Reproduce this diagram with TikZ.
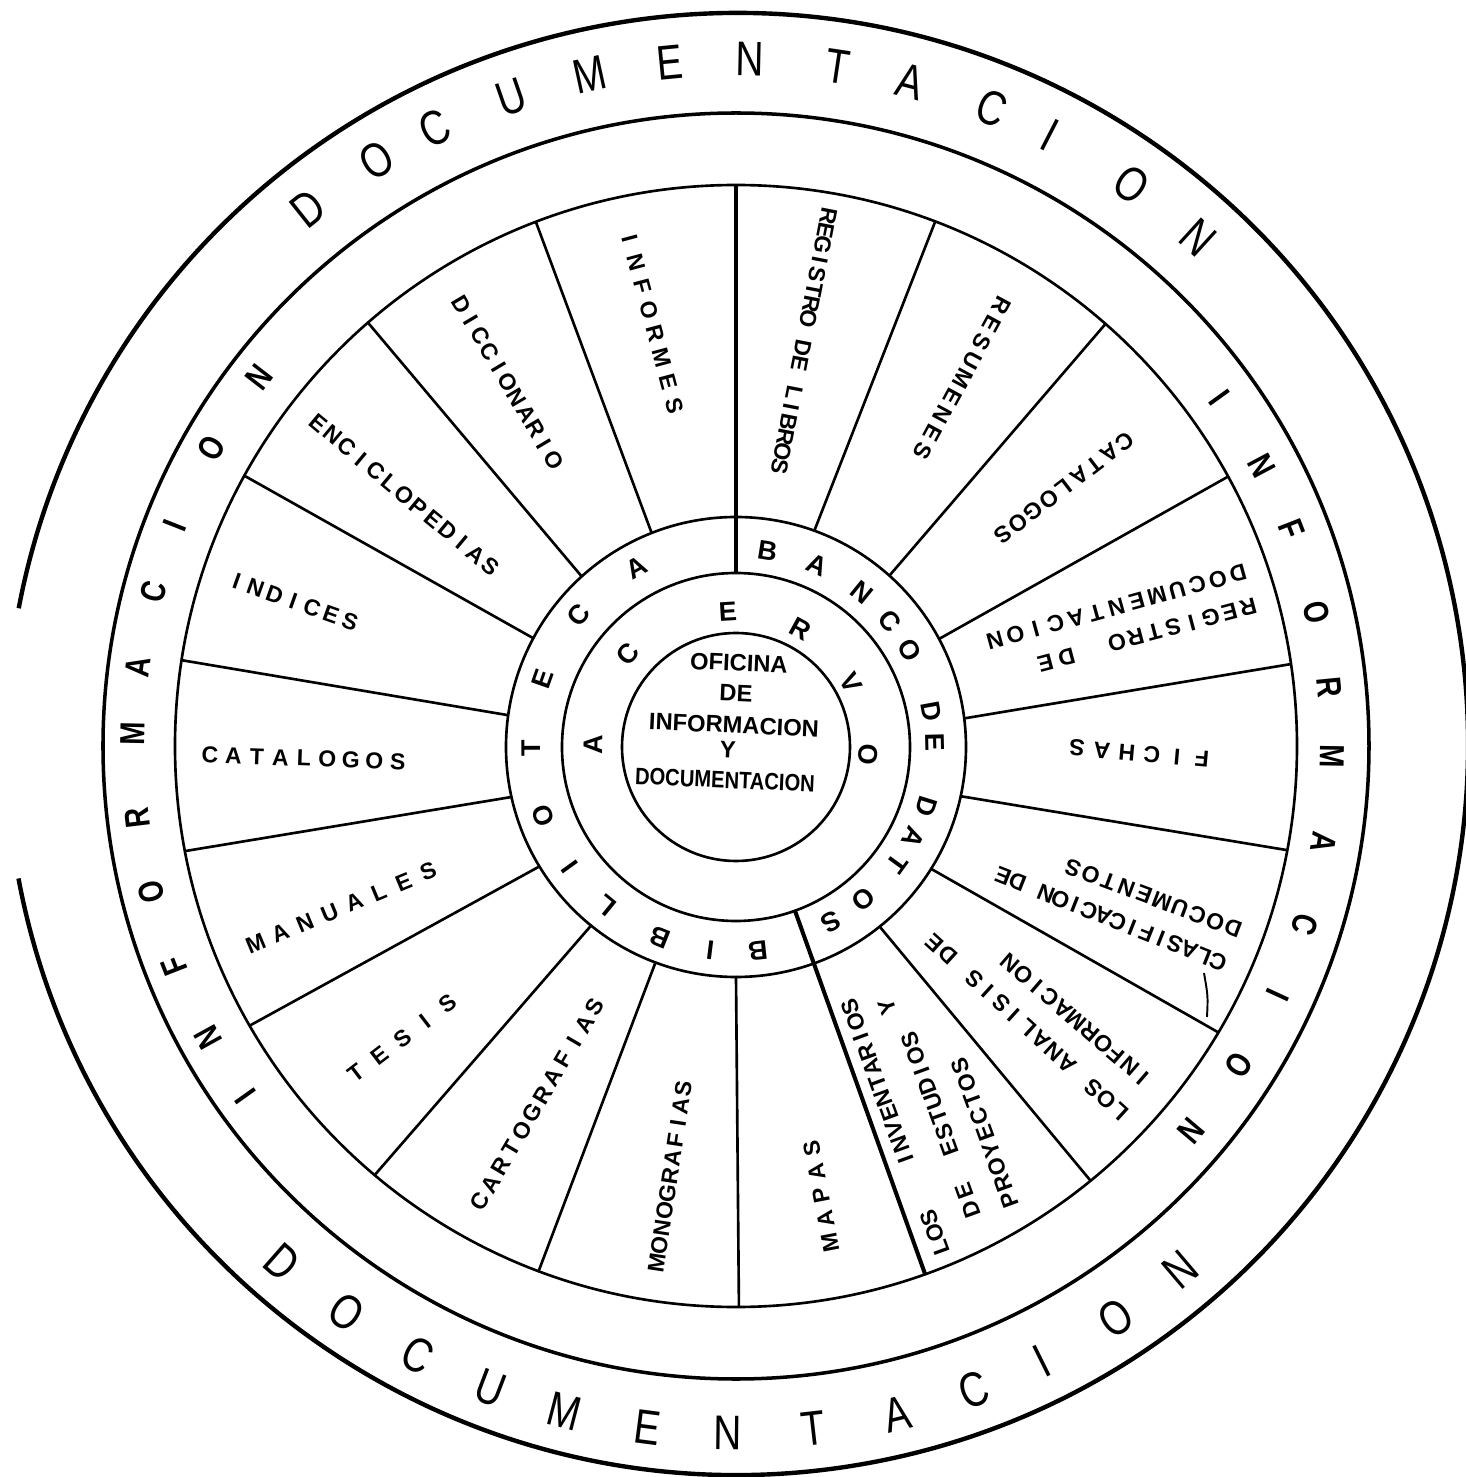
\documentclass[tikz,border=0pt]{standalone}
\usepackage{fontspec}
\setmainfont{Liberation Sans}
\newfontfamily\narrowfont{Liberation Sans}[FakeStretch=0.8]
\newdimen\pxunit \pxunit=0.02cm
\newdimen\lspw
\makeatletter
\newcommand\lsp[2]{\lspw=#1\pxunit\relax\lsp@iter#2\relax}
\def\lsp@iter#1{%
  \ifx#1\relax\let\lsp@next\relax
  \else
    \ifx#1|\hbox to\lspw{}\else\hbox to\lspw{\hss#1\hss}\fi
    \let\lsp@next\lsp@iter
  \fi\lsp@next}
\makeatother
\newcommand\fDoc{\narrowfont\fontsize{27.7}{30}\selectfont}
\newcommand\fInf{\narrowfont\bfseries\fontsize{19.8}{22}\selectfont}
\newcommand\fRing{\bfseries\fontsize{15.4}{17}\selectfont}
\newcommand\fSec{\bfseries\fontsize{13.1}{15}\selectfont}
\newcommand\fCen{\bfseries\fontsize{13.5}{16}\selectfont}
\begin{document}
\begin{tikzpicture}[x=0.02cm,y=0.02cm,
  circ/.style={line width=1.5pt},
  spoke/.style={line width=1.5pt},
  boldspoke/.style={line width=2.3pt},
  sec/.style={font=\fSec, inner sep=0pt},
  cen/.style={font=\fCen, inner sep=0pt, rotate=-2.5},
  ringl/.style={font=\fRing, inner sep=0pt},
  docl/.style={font=\fDoc, inner sep=0pt},
  infl/.style={font=\fInf, inner sep=0pt}]
\useasboundingbox (-736,-731) rectangle (730,746);
% circles
\draw[line width=2.5pt] (1,2) ++(190.6:731) arc[start angle=190.6, end angle=529.3, radius=731];
\draw[line width=2pt] (0,0) circle[radius=633];
\draw[circ] (0,0) circle[radius=561];
\begin{scope}[shift={(0,-1)}]
\draw[circ] (0,0) circle[radius=230];
\draw[circ] (0,0) circle[radius=174];
\draw[circ] (0,0) circle[radius=114];
\end{scope}
% spokes
\foreach \ai/\ao in {111.6/110.9, 132.3/131.0, 152/151.2, 172.3/171.2, 192.8/190.8, 211.5/209.9, 231.1/229.9, 249.6/249.4, 270/270.3, 308.5/309.2, 327.8/329.3, 347.4/349.3, 6.9/8.4, 27.8/28.7, 48/48.8, 70/69.2}
  \draw[spoke] (\ai:230) -- (\ao:561);
\draw[boldspoke] (90:174) -- (90:561);
\draw[boldspoke] (289.7:174) -- (289.7:561);
% tick mark
\coordinate (tk1) at (468,-227);
\coordinate (tk2) at (471,-271);
\draw[line width=1.1pt] (tk1) .. controls (472,-250) .. (tk2);
% outer lettering
\foreach \a/\ch [count=\k] in {128.5/D,121.5/O,116/C,109.1/U,102.3/M,95.5/E,88.8/N,81.5/T,75.3/A,68.1/C,62.8/I,54.8/O,47.7/N}
  \node[docl, rotate=\a-90] (dt\k) at (\a:687) {\ch};
\foreach \a/\ch [count=\k] in {228.7/D,235.5/O,242.4/C,249.1/U,255.5/M,262.6/E,269.3/N,276.5/T,283.6/A,290.3/C,296.4/I,303.6/O,310.3/N}
  \node[docl, rotate=\a+90] (db\k) at (\a:687) {\ch};
\foreach \a/\ch [count=\k] in {215.5/I,208.9/N,201.4/F,194.0/O,186.9/R,178.8/M,172.5/A,165.2/C,158.6/I,150.4/O,142.3/N}
  \node[infl, rotate=\a-90] (il\k) at (\a:603) {\ch};
\foreach \a/\ch [count=\k] in {35.8/I,28.0/N,21.3/F,13.0/O,5.7/R,-1.0/M,-9.3/A,-17.4/C,-24.7/I,-32.4/O,-40.2/N}
  \node[infl, rotate=\a-90] (ir\k) at (\a:596) {\ch};
% ring lettering
\begin{scope}[shift={(0,-1)}]
\foreach \a/\ch [count=\k] in {80.9/B,65.9/A,50.9/N,39.4/C,29.1/O,10.3/D,1.5/E,-17.3/D,-27/A,-36/T,-50/O,-61.4/S}
  \node[ringl, rotate=\a-90] (bd\k) at (\a:199) {\ch};
\foreach \a/\ch [count=\k] in {276.1/B,262.8/I,248.2/B,230.8/L,215.9/I,199.6/O,180.3/T,160.7/E,140/C,118.9/A}
  \node[ringl, rotate=\a-90] (bi\k) at (\a:205) {\ch};
\foreach \a/\ch/\r [count=\k] in {179.2/A/143,139.2/C/143,93.4/E/136,61.3/R/134,29.3/V/132,-3.5/O/132}
  \node[ringl, rotate=\a-90] (ac\k) at (\a:\r) {\ch};
\end{scope}
% centre
\node[cen] (c1) at (3,83) {OFICINA};
\node[cen] (c2) at (0,53) {DE};
\node[cen] (c3) at (-2,21) {INFORMACION};
\node[cen] (c4) at (-8,-4) {Y};
\node[cen] (c5) at (-11,-34) {\scalebox{0.85}[1]{DOCUMENTACION}};
% sector labels
\node[sec, rotate=259] (s1) at (68,405) {\lsp{15}{REGISTRO|DE|LIBROS}};
\node[sec, rotate=285] (s2) at (-84,424) {\lsp{24.7}{INFORMES}};
\node[sec, rotate=241.6] (s3) at (226.5,367.5) {\lsp{20.7}{RESUMENES}};
\node[sec, rotate=217.4] (s4) at (328,258) {\lsp{19.2}{CATALOGOS}};
\node[sec, rotate=194.8] (s5a) at (446.5,121) {\lsp{19.4}{REGISTRO}};
\node[sec, rotate=194.8] (s5b) at (320,86) {\lsp{22}{DE}};
\node[sec, rotate=195.4] (s5c) at (380.5,139) {\lsp{21}{DOCUMENTACION}};
\node[sec, rotate=175] (s6) at (403.5,-7.5) {\lsp{25.1}{FICHAS}};
\node[sec, rotate=158.4] (s7a) at (374.5,-173) {\lsp{15.4}{CLASIFICACION|DE}};
\node[sec, rotate=159.4] (s7b) at (417,-152) {\lsp{19}{DOCUMENTOS}};
\node[sec, rotate=137.7] (s8a) at (291.5,-281.5) {\lsp{17.9}{LOS|ANALISIS|DE}};
\node[sec, rotate=139.2] (s8b) at (340.5,-274.5) {\lsp{17.6}{INFORMACION}};
\node[sec, rotate=110] (s9a) at (199,-487) {\lsp{16}{LOS}};
\node[sec, rotate=110] (s9b) at (142,-337) {\lsp{16.2}{INVENTARIOS}};
\node[sec, rotate=110] (s9c) at (151,-261) {\lsp{16}{Y}};
\node[sec, rotate=110] (s9d) at (194,-348) {\lsp{16.3}{ESTUDIOS}};
\node[sec, rotate=110] (s9e) at (232,-454) {\lsp{20}{DE}};
\node[sec, rotate=110] (s9f) at (249,-387) {\lsp{17.8}{PROYECTOS}};
\node[sec, rotate=100.9] (s10) at (85,-449.5) {\lsp{24.2}{MAPAS}};
\node[sec, rotate=81.4] (s11) at (-66,-429.8) {\lsp{17.7}{MONOGRAFIAS}};
\node[sec, rotate=59.5] (s12) at (-198.5,-358) {\lsp{20.6}{CARTOGRAFIAS}};
\node[sec, rotate=37.4] (s13) at (-333.5,-292.3) {\lsp{28.8}{TESIS}};
\node[sec, rotate=22.6] (s14) at (-394,-161.5) {\lsp{26.7}{MANUALES}};
\node[sec, rotate=-2] (s15) at (-432,-12.3) {\lsp{23.5}{CATALOGOS}};
\node[sec, rotate=-19.6] (s16) at (-442.6,144.5) {\lsp{20}{INDICES}};
\node[sec, rotate=-39.8] (s17) at (-331.5,251) {\lsp{18.7}{ENCICLOPEDIAS}};
\node[sec, rotate=-59.4] (s18) at (-228.2,363.5) {\lsp{18}{DICCIONARIO}};
\end{tikzpicture}
\end{document}
